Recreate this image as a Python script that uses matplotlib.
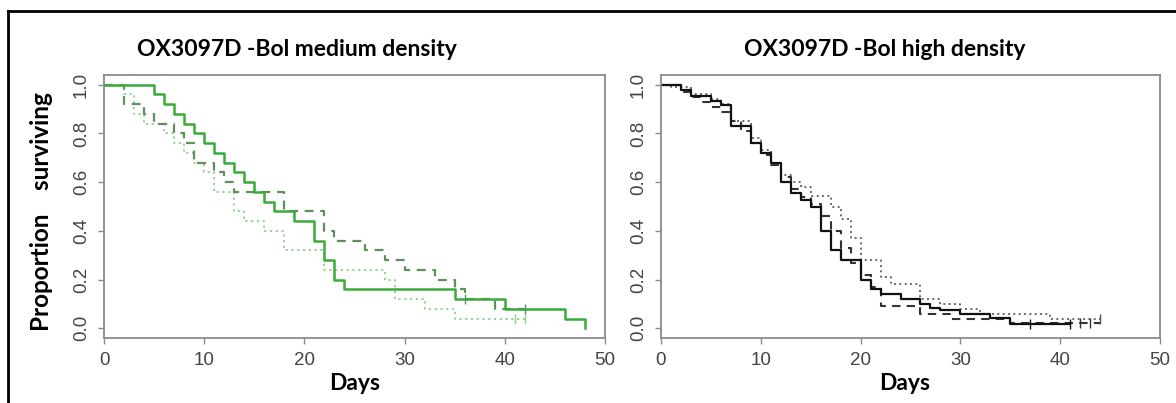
import matplotlib
matplotlib.use("Agg")
import matplotlib.pyplot as plt
from matplotlib import font_manager
from matplotlib.lines import Line2D

# ---- survival curves (day of each step, proportion surviving after it) ----
days_ticks = [0, 10, 20, 30, 40, 50]
surv_ticks = [0.0, 0.2, 0.4, 0.6, 0.8, 1.0]
surv_tick_labels = ["0.0", "0.2", "0.4", "0.6", "0.8", "1.0"]

# medium density (green)
med_solid_t = [0, 5, 6, 7, 8, 9, 10, 11, 12, 13, 14, 15, 16, 17, 19, 21, 22, 23, 24, 35, 40, 46, 48]
med_solid_s = [1.0, .96, .92, .88, .84, .80, .76, .72, .68, .64, .60, .56, .52, .48, .44, .36, .28, .20, .16, .12, .08, .04, 0.0]
med_dash_t = [0, 2, 4, 5, 7, 8, 9, 11, 12, 13, 18, 22, 23, 26, 28, 30, 33, 35, 36, 39, 42]
med_dash_s = [1.0, .92, .88, .84, .80, .76, .68, .64, .60, .56, .48, .40, .36, .32, .28, .24, .20, .16, .12, .08, .08]
med_dot_t = [0, 2, 3, 4, 6, 7, 8, 9, 10, 11, 13, 14, 16, 18, 22, 28, 29, 32, 35, 42]
med_dot_s = [1.0, .96, .88, .84, .80, .76, .72, .68, .64, .56, .48, .44, .40, .32, .24, .20, .12, .08, .04, .04]
med_dash_cens_t = [36, 42]
med_dash_cens_s = [.12, .08]
med_dot_cens_t = [41, 42]
med_dot_cens_s = [.04, .04]

# high density (black)
high_solid_t = [0, 2, 3, 5, 6, 7, 9, 10, 11, 12, 13, 14, 15, 16, 17, 18, 20, 21, 22, 24, 26, 27, 28, 30, 33, 35, 41]
high_solid_s = [1.0, .98, .955, .935, .915, .83, .76, .72, .68, .60, .555, .525, .50, .40, .32, .28, .20, .16, .14, .12, .10, .085, .075, .06, .042, .018, .018]
high_dash_t = [0, 2, 3, 4, 5, 6, 7, 8, 9, 10, 11, 12, 13, 14, 15, 16, 17, 18, 19, 20, 21, 22, 26, 29, 35, 44]
high_dash_s = [1.0, .97, .95, .93, .91, .89, .85, .81, .76, .71, .67, .62, .57, .54, .51, .46, .40, .33, .27, .22, .17, .09, .06, .04, .02, .02]
high_dot_t = [0, 1, 3, 5, 6, 7, 9, 10, 11, 12, 13, 14, 15, 17, 18, 19, 20, 22, 23, 26, 28, 30, 32, 39, 44]
high_dot_s = [1.0, .99, .96, .94, .92, .85, .78, .73, .68, .63, .60, .58, .545, .50, .45, .37, .28, .21, .18, .12, .10, .08, .06, .04, .04]
high_solid_cens_t = [37, 41]
high_solid_cens_s = [.018, .018]
high_dash_cens_t = [42, 43]
high_dash_cens_s = [.02, .02]
high_dot_cens_t = [44]
high_dot_cens_s = [.04]

titles = ["OX3097D -Bol medium density", "OX3097D -Bol high density"]


def pick(*names):
    avail = {f.name for f in font_manager.fontManager.ttflist}
    for n in names:
        if n in avail:
            return n
    return "DejaVu Sans"


label_font = pick("Lato", "Open Sans", "DejaVu Sans")
tick_font = pick("Liberation Sans Narrow", "Liberation Sans", "DejaVu Sans")

W, H = 1176, 403
fig = plt.figure(figsize=(W / 100, H / 100), dpi=100)
fig.patch.set_facecolor("white")

# outer frame
frame_kw = dict(color="black", lw=2.0, transform=fig.transFigure)
fig.add_artist(Line2D([8 / W, 8 / W], [0, 1 - 11 / H], **frame_kw))
fig.add_artist(Line2D([8 / W, 1], [1 - 11 / H, 1 - 11 / H], **frame_kw))


def px_axes(x0, x1, y0, y1):
    return fig.add_axes([x0 / W, 1 - y1 / H, (x1 - x0) / W, (y1 - y0) / H])


ax_med = px_axes(104, 605, 75, 338)
ax_high = px_axes(661, 1160, 75, 338)

spine_col = "#8a8a8a"
for ax in (ax_med, ax_high):
    ax.set_xlim(0, 50)
    ax.set_ylim(-0.04, 1.04)
    ax.set_xticks(days_ticks)
    ax.set_yticks(surv_ticks)
    ax.set_yticklabels(surv_tick_labels, rotation=90, va="center")
    for sp in ax.spines.values():
        sp.set_color(spine_col)
        sp.set_linewidth(1.3)
    ax.tick_params(direction="out", length=4, width=1, color=spine_col,
                   labelcolor="#444444", labelsize=13.5, pad=6)
    for lab in ax.get_xticklabels() + ax.get_yticklabels():
        lab.set_family(tick_font)

# medium density panel
ax_med.step(med_dot_t, med_dot_s, where="post", color="#8fcf8f", lw=1.3, ls=(0, (1.2, 2.0)))
ax_med.step(med_dash_t, med_dash_s, where="post", color="#5f8f5f", lw=1.6, ls=(0, (4, 3)))
ax_med.step(med_solid_t, med_solid_s, where="post", color="#3aaa3a", lw=1.8)
ax_med.plot(med_dash_cens_t, med_dash_cens_s, ls="none", marker="|", ms=7, mew=1.0, color="#5f8f5f")
ax_med.plot(med_dot_cens_t, med_dot_cens_s, ls="none", marker="|", ms=7, mew=1.0, color="#8fcf8f")

# high density panel
ax_high.step(high_dot_t, high_dot_s, where="post", color="#555555", lw=1.2, ls=(0, (1.2, 2.0)))
ax_high.step(high_dash_t, high_dash_s, where="post", color="#333333", lw=1.5, ls=(0, (4, 3)))
ax_high.step(high_solid_t, high_solid_s, where="post", color="#111111", lw=1.6)
ax_high.plot(high_solid_cens_t, high_solid_cens_s, ls="none", marker="|", ms=7, mew=1.0, color="#111111")
ax_high.plot(high_dash_cens_t, high_dash_cens_s, ls="none", marker="|", ms=7, mew=1.0, color="#333333")
ax_high.plot(high_dot_cens_t, high_dot_cens_s, ls="none", marker="|", ms=7, mew=1.0, color="#555555")

# titles and axis labels
title_kw = dict(fontsize=16.5, fontweight="bold", family=label_font, ha="center", va="center")
fig.text(297 / W, 1 - 50 / H, titles[0], **title_kw)
fig.text(885 / W, 1 - 50 / H, titles[1], **title_kw)
fig.text(355 / W, 1 - 384 / H, "Days", **title_kw)
fig.text(905 / W, 1 - 384 / H, "Days", **title_kw)
fig.text(42 / W, 1 - 212 / H, "Proportion    surviving", rotation=90,
         **{**title_kw, "fontsize": 17.5})

fig.savefig("out.png", dpi=100, facecolor="white")
